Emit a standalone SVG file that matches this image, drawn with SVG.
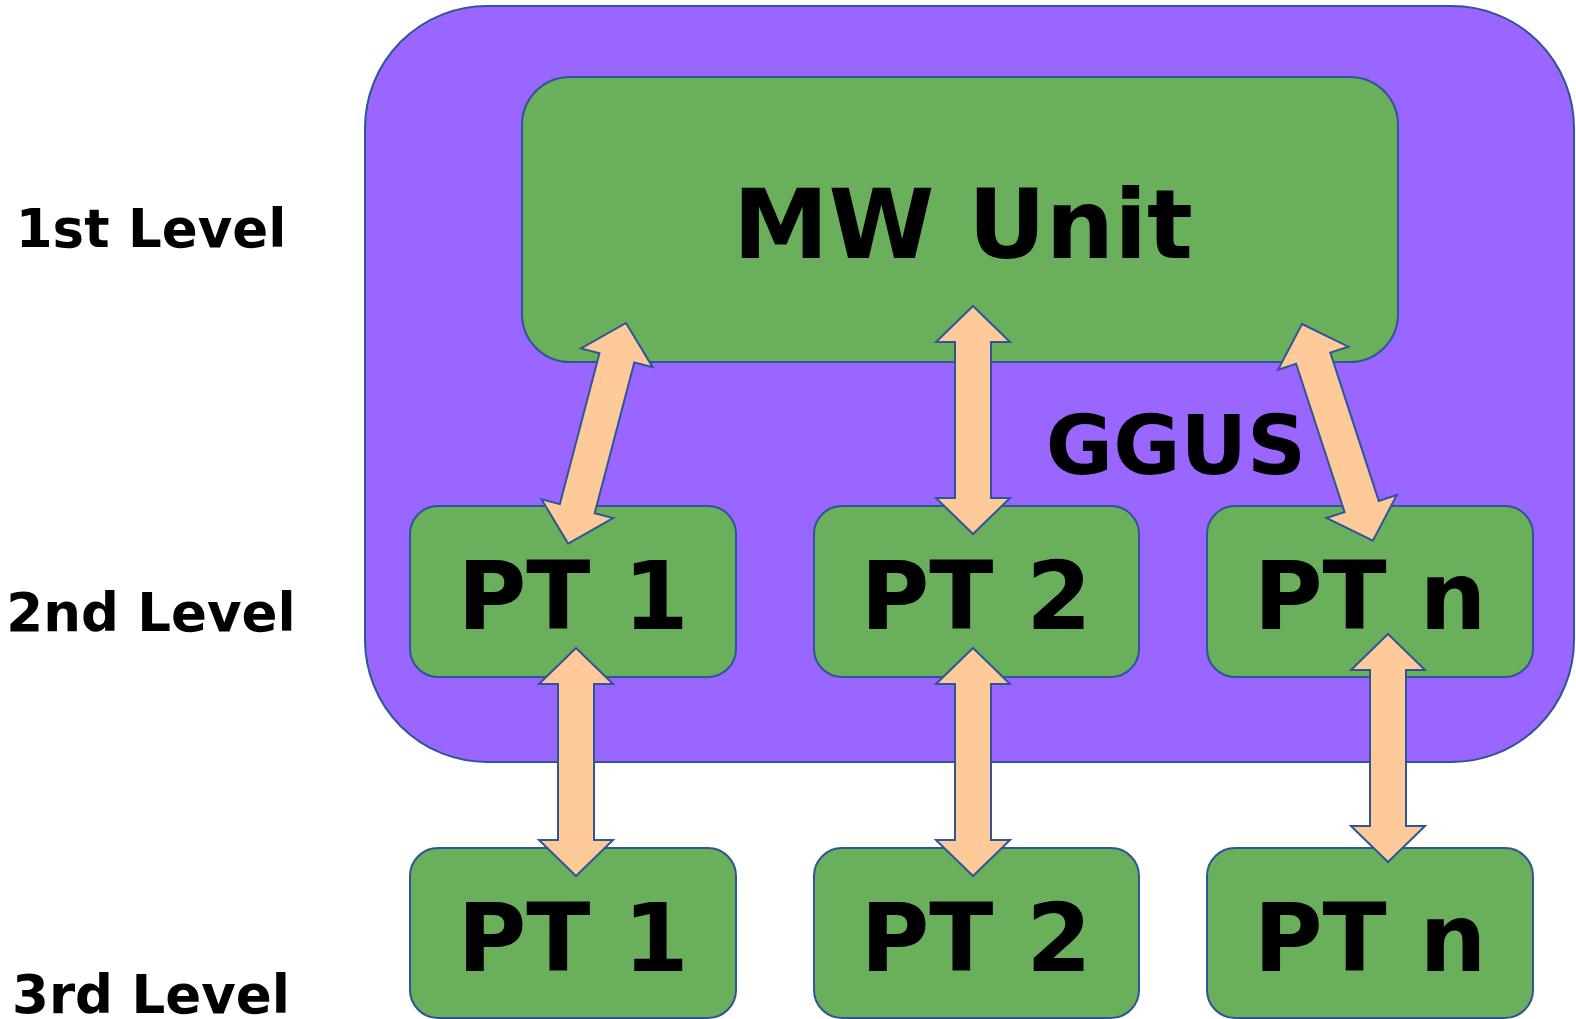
<svg xmlns="http://www.w3.org/2000/svg" xmlns:xlink="http://www.w3.org/1999/xlink" width="1576" height="1019" viewBox="0 0 1576 1019">
  <style>
    .box { fill: #6AAF5B; stroke: #2F5597; stroke-width: 2; }
    .ggus { fill: #9966FF; stroke: #2F5597; stroke-width: 2; }
    .arrow { fill: #FFCA99; stroke: #2F5597; stroke-width: 2; stroke-linejoin: miter; }
    text { font-family: "DejaVu Sans", Verdana, sans-serif; font-weight: bold; fill: #000; }
    .big { font-size: 96px; text-anchor: middle; }
    .pt { font-size: 94px; text-anchor: middle; }
    .grp { font-size: 82px; text-anchor: middle; }
    .lvl { font-size: 53px; text-anchor: middle; }
  </style>
  <defs>
    <!-- double-headed block arrow, tip at origin, pointing along +y, 228 long -->
    <path id="dbl" class="arrow" d="M0,0 L37,36 L18,36 L18,192 L37,192 L0,228 L-37,192 L-18,192 L-18,36 L-37,36 Z"/>
  </defs>

  <!-- level labels -->
  <g id="labels">
    <text class="lvl" x="151" y="247">1st Level</text>
    <text class="lvl" x="151" y="631">2nd Level</text>
    <text class="lvl" x="151" y="1013">3rd Level</text>
  </g>

  <!-- GGUS container -->
  <g id="ggus">
    <rect class="ggus" x="365" y="6" width="1209" height="756" rx="122" ry="122"/>
    <text class="grp" x="1176" y="474">GGUS</text>
  </g>

  <g id="mw-unit">
    <rect class="box" x="522" y="77" width="876" height="285" rx="48" ry="48"/>
    <text class="big" x="963" y="258">MW Unit</text>
  </g>

  <!-- second level -->
  <g id="pt1-l2">
    <rect class="box" x="410" y="506" width="326" height="171" rx="28" ry="28"/>
    <text class="pt" x="573" y="629">PT 1</text>
  </g>
  <g id="pt2-l2">
    <rect class="box" x="814" y="506" width="325" height="171" rx="28" ry="28"/>
    <text class="pt" x="976" y="629">PT 2</text>
  </g>
  <g id="ptn-l2">
    <rect class="box" x="1207" y="506" width="326" height="171" rx="28" ry="28"/>
    <text class="pt" x="1370" y="629">PT n</text>
  </g>

  <!-- third level -->
  <g id="pt1-l3">
    <rect class="box" x="410" y="848" width="326" height="170" rx="28" ry="28"/>
    <text class="pt" x="573" y="971">PT 1</text>
  </g>
  <g id="pt2-l3">
    <rect class="box" x="814" y="848" width="325" height="170" rx="28" ry="28"/>
    <text class="pt" x="976" y="971">PT 2</text>
  </g>
  <g id="ptn-l3">
    <rect class="box" x="1207" y="848" width="326" height="170" rx="28" ry="28"/>
    <text class="pt" x="1370" y="971">PT n</text>
  </g>

  <!-- connectors -->
  <g id="connectors">
    <use xlink:href="#dbl" href="#dbl" transform="translate(626,323) rotate(14.7)"/>
    <use xlink:href="#dbl" href="#dbl" transform="translate(973,306)"/>
    <use xlink:href="#dbl" href="#dbl" transform="translate(1302,324) rotate(-18.1)"/>
    <use xlink:href="#dbl" href="#dbl" transform="translate(576,648)"/>
    <use xlink:href="#dbl" href="#dbl" transform="translate(973,648)"/>
    <use xlink:href="#dbl" href="#dbl" transform="translate(1388,634)"/>
  </g>
</svg>
